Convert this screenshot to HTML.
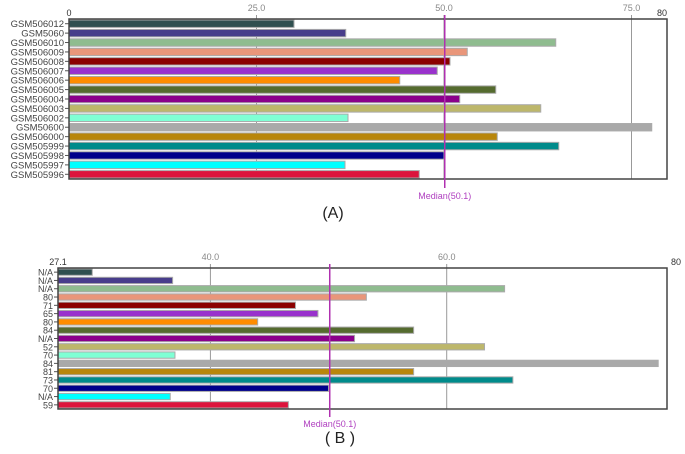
<!DOCTYPE html>
<html><head><meta charset="utf-8"><style>
html,body{margin:0;padding:0;background:#fff;width:685px;height:454px;overflow:hidden}
svg text{font-family:"Liberation Sans",sans-serif}
</style></head><body>
<svg id="chart" width="685" height="454" xmlns="http://www.w3.org/2000/svg"></svg>
<script>
const colors=["#2f4f4f","#483d8b","#8fbc8f","#e9967a","#8b0000","#9932cc","#ff8c00","#556b2f","#8b008b","#bdb76b","#7fffd4","#a9a9a9","#b8860b","#008b8b","#00008b","#00ffff","#dc143c"];
const labelsA=["GSM506012","GSM5060","GSM506010","GSM506009","GSM506008","GSM506007","GSM506006","GSM506005","GSM506004","GSM506003","GSM506002","GSM50600","GSM506000","GSM505999","GSM505998","GSM505997","GSM505996"];
const valuesA=[30.0,36.9,64.9,53.1,50.8,49.1,44.1,56.9,52.1,62.9,37.2,77.7,57.1,65.3,50.0,36.8,46.7];
const ticksA=[0,25,50,75,80];
const tickLabelsA=["0","25.0","50.0","75.0","80"];
const labelsB=["N/A","N/A","N/A","80","71","65","80","84","N/A","52","70","84","81","73","70","N/A","59"];
const valuesB=[30.0,36.8,64.9,53.2,47.2,49.1,44.0,57.2,52.2,63.2,37.0,77.9,57.2,65.6,50.0,36.6,46.6];
const ticksB=[27.1,40,60,80];
const tickLabelsB=["27.1","40.0","60.0","80"];
const medianA=50.1, medianB=50.1;
const svg=document.getElementById('chart');
const NS="http://www.w3.org/2000/svg";
function mk(t,a,p){const e=document.createElementNS(NS,t);for(const k in a)e.setAttribute(k,a[k]);(p||svg).appendChild(e);return e;}
function draw(cfg){
  const g=mk('g',{});
  
  
  const x=v=>cfg.x0+(v-cfg.d0)*(cfg.x1-cfg.x0)/(cfg.d1-cfg.d0);
  const rh=(cfg.bottom-cfg.top)/cfg.values.length;
  const n=cfg.ticks.length;
  cfg.ticks.forEach((t,i)=>{
    const tx=x(t);
    const edge=(i===0||i===n-1);
    if(!edge){
      const l=mk('line',{x1:tx,x2:tx,y1:cfg.top-4,y2:cfg.bottom,stroke:'#999','stroke-width':1},g);
      
      
    }
    const tt=mk('text',{x:i===n-1?tx-2:tx,y:edge?cfg.top-3:cfg.top-8,'font-size':9,fill:edge?'#333':'#888','text-anchor':i===n-1?'end':'middle'},g);
    tt.textContent=cfg.tickLabels[i];
    
    
  });
  cfg.values.forEach((v,i)=>{
    const y=cfg.top+i*rh;
    const r=mk('rect',{x:cfg.x0,y:y+1,width:x(v)-cfg.x0,height:rh-2,fill:cfg.colors[i],stroke:'#aaa','stroke-width':1},g);
    
    
    mk('line',{x1:cfg.x0-4,x2:cfg.x0,y1:y+rh/2,y2:y+rh/2,stroke:'#555'},g);
    const t=mk('text',{x:cfg.x0-5,y:y+rh/2+3.5,'font-size':cfg.fs,fill:'#444','text-anchor':'end'},g);
    t.textContent=cfg.labels[i];
    
    
  });
  const fr=mk('rect',{x:cfg.x0,y:cfg.top,width:cfg.right-cfg.x0,height:cfg.bottom-cfg.top,fill:'none',stroke:'#444','stroke-width':1.5},g);
  
  
  const mx=x(cfg.median);
  const ml=mk('line',{x1:mx,x2:mx,y1:cfg.top-4,y2:cfg.bottom+cfg.mlen,stroke:'#b030b0','stroke-width':1.5},g);
  
  
  const mt=mk('text',{x:mx,y:cfg.bottom+cfg.mlab,'font-size':9,fill:'#b040c0','text-anchor':'middle'},g);
  mt.textContent='Median('+cfg.median.toFixed(1)+')';
  
  
  const ct=mk('text',{x:cfg.capX,y:cfg.capY,'font-size':16,fill:'#222','text-anchor':'middle'},g);
  ct.textContent=cfg.caption;
  
  
}
draw({name:'chart-a',x0:69,x1:669,d0:0,d1:80,right:667,top:19,bottom:179,values:valuesA,labels:labelsA,colors,ticks:ticksA,tickLabels:tickLabelsA,median:medianA,fs:9.5,mlen:9,mlab:20,caption:'(A)',capX:333,capY:218});
draw({name:'chart-b',x0:58,x1:683,d0:27.1,d1:80,right:667,top:268,bottom:409,values:valuesB,labels:labelsB,colors,ticks:ticksB,tickLabels:tickLabelsB,median:medianB,fs:9,mlen:8,mlab:18,caption:'( B )',capX:340,capY:443});
</script>
</body></html>
